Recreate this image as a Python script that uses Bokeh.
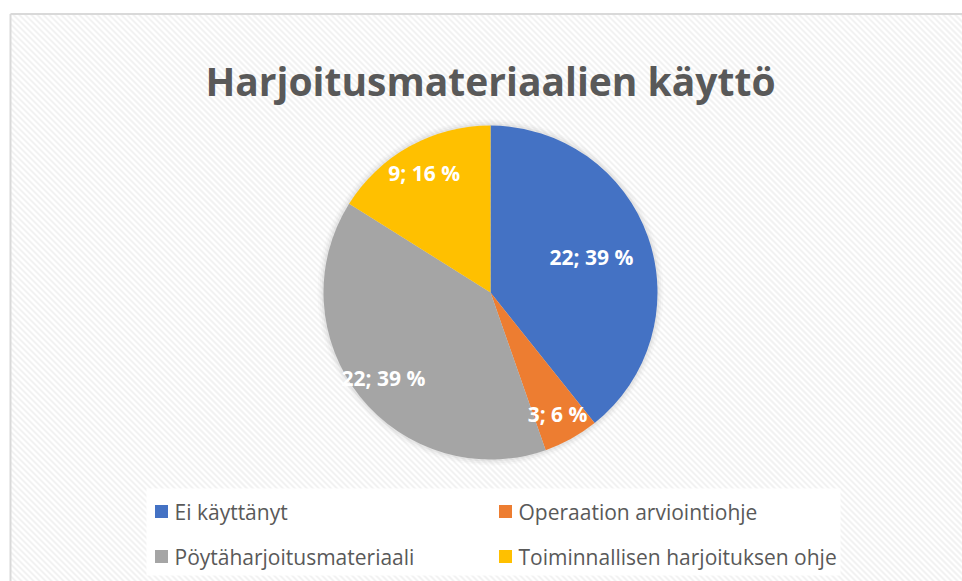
import numpy as np
from bokeh.plotting import figure
from bokeh.models import ColumnDataSource, Range1d
from bokeh.core.properties import value
from bokeh.embed import file_html
from bokeh.resources import INLINE

# ---- data ----
title_text = "Harjoitusmateriaalien käyttö"
categories = ["Ei käyttänyt", "Operaation arviointiohje", "Pöytäharjoitusmateriaali", "Toiminnallisen harjoituksen ohje"]
counts = [22, 3, 22, 9]
percent_labels = ["39 %", "6 %", "39 %", "16 %"]
colors = ["#4472C4", "#ED7D31", "#A5A5A5", "#FFC000"]

# ---- layout (pixel-space data coordinates) ----
W, H = 962, 581
FONT = value("Open Sans")
cx, cy, R = 490, 289, 167
label_radius_frac = [0.64, 0.83, 0.82, 0.82]

total = sum(counts)
frac = np.array(counts) / total
cum = np.concatenate([[0], np.cumsum(frac)])
cw_start = cum[:-1] * 2 * np.pi
cw_end = cum[1:] * 2 * np.pi
start = np.pi / 2 - cw_start
end = np.pi / 2 - cw_end
mid = (cw_start + cw_end) / 2
lr = np.array(label_radius_frac) * R
lx = cx + lr * np.sin(mid)
ly = cy + lr * np.cos(mid)
labels = [f"{c}; {p}" for c, p in zip(counts, percent_labels)]

p = figure(width=W, height=H, output_backend="svg", toolbar_location=None,
           x_range=Range1d(0, W), y_range=Range1d(0, H), min_border=0,
           background_fill_color="white", border_fill_color="white")
p.axis.visible = False
p.grid.visible = False
p.outline_line_color = None

# chart area background with diagonal stripes and border
left, top = 10, 567.5
p.quad(left=[left], right=[W + 20], top=[top], bottom=[-20], fill_color="white", line_color=None)
offs = np.arange(left - 700, W + 10, 6.0)
x0 = offs
y0 = np.full_like(offs, top)
x1 = offs + (top + 20)
y1 = np.full_like(offs, -20.0)
shift = np.clip(left - x0, 0, None)
x0c = x0 + shift
y0c = y0 - shift
p.segment(x0=x0c, y0=y0c, x1=x1, y1=y1, line_color="#f2f2f2", line_width=2)
p.segment(x0=[left, left], y0=[-20, top], x1=[left, W + 20], y1=[top, top],
          line_color="#d9d9d9", line_width=2)

# soft shadow
for dr, a in [(6, 0.08), (4, 0.12), (2, 0.2)]:
    p.circle(x=[cx], y=[cy], radius=R + dr, fill_color="#bfbfbf", fill_alpha=a, line_color=None)

src = ColumnDataSource(dict(start=start, end=end, color=colors, cat=categories))
p.wedge(x=cx, y=cy, radius=R, start_angle="start", end_angle="end", direction="clock",
        fill_color="color", line_color=None, source=src)

p.text(x=lx, y=ly, text=labels, text_align="center", text_baseline="middle",
       text_font=FONT, text_font_style="bold", text_font_size="21px", text_color="white")

# title
p.text(x=[cx], y=[501], text=[title_text], text_align="center", text_baseline="alphabetic",
       text_font=FONT, text_font_style="bold", text_font_size="39px", text_color="#595959")

# legend
p.quad(left=[146], right=[840], top=[93], bottom=[6], fill_color="white", line_color=None)
col_sq = [161, 505]
row_y = [70, 25]
sx = [col_sq[i % 2] for i in range(4)]
sy = [row_y[i // 2] for i in range(4)]
p.rect(x=sx, y=sy, width=13, height=13, fill_color=colors, line_color=None)
p.text(x=[s + 13 for s in sx], y=sy, text=categories, text_align="left", text_baseline="middle",
       text_font=FONT, text_font_size="21px", text_color="#595959")

open("out.html", "w").write(file_html(p, INLINE))
